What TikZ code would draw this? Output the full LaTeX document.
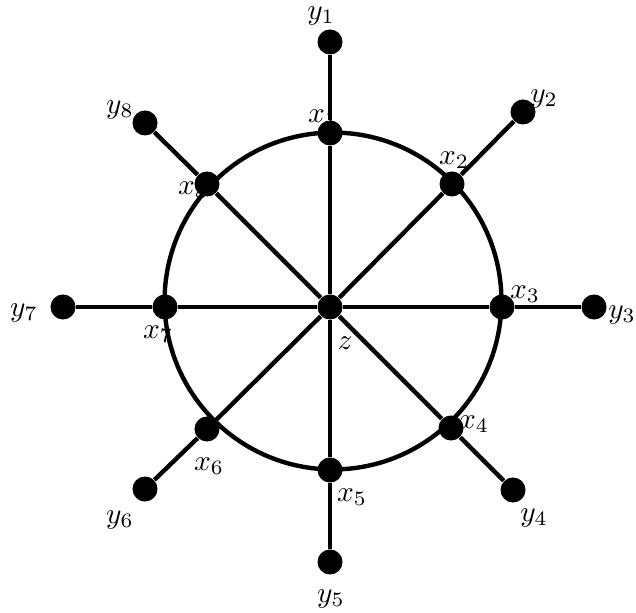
\documentclass[tikz,border=0pt]{standalone}
\usepackage{tikz}
\usetikzlibrary{positioning}

\begin{document}
\begin{tikzpicture}[
  x=0.012cm, y=-0.012cm,
  vertex/.style={circle, fill=black, inner sep=0pt, minimum size=0.3cm},
  edge/.style={line width=1.5pt},
  every node/.style={font=\normalsize}
]
  \useasboundingbox (0,0) rectangle (636,613);

  % labels
  \node (ly1) at (321,16)  {$y_1$};
  \node (lx1) at (323,118) {$x_1$};
  \node (ly2) at (544,99)  {$y_2$};
  \node (lx2) at (454,160) {$x_2$};
  \node (ly3) at (622,315) {$y_3$};
  \node (lx3) at (525,294) {$x_3$};
  \node (ly4) at (534,518) {$y_4$};
  \node (lx4) at (474,424) {$x_4$};
  \node (ly5) at (331,599) {$y_5$};
  \node (lx5) at (352,497) {$x_5$};
  \node (ly6) at (120,520) {$y_6$};
  \node (lx6) at (209,466) {$x_6$};
  \node (ly7) at (24,313)  {$y_7$};
  \node (lx7) at (158,334) {$x_7$};
  \node (ly8) at (120,110) {$y_8$};
  \node (lx8) at (193,190) {$x_8$};
  \node (lz)  at (345,343) {$z$};

  \coordinate (o) at (333,301);
  \draw[edge] (o) circle [radius=2.02cm];

  % vertices
  \node[vertex] (z)  at (330,307) {};
  \node[vertex] (x1) at (330,133) {};
  \node[vertex] (x2) at (452,184) {};
  \node[vertex] (x3) at (502,307) {};
  \node[vertex] (x4) at (451,428) {};
  \node[vertex] (x5) at (330,470) {};
  \node[vertex] (x6) at (207,429) {};
  \node[vertex] (x7) at (165,307) {};
  \node[vertex] (x8) at (207,184) {};
  \node[vertex] (y1) at (330,42)  {};
  \node[vertex] (y2) at (523,112) {};
  \node[vertex] (y3) at (594,307) {};
  \node[vertex] (y4) at (513,490) {};
  \node[vertex] (y5) at (330,562) {};
  \node[vertex] (y6) at (145,489) {};
  \node[vertex] (y7) at (63,307)  {};
  \node[vertex] (y8) at (145,123) {};

  \foreach \i in {1,...,8}
    \draw[edge] (z) -- (x\i) -- (y\i);
\end{tikzpicture}
\end{document}
